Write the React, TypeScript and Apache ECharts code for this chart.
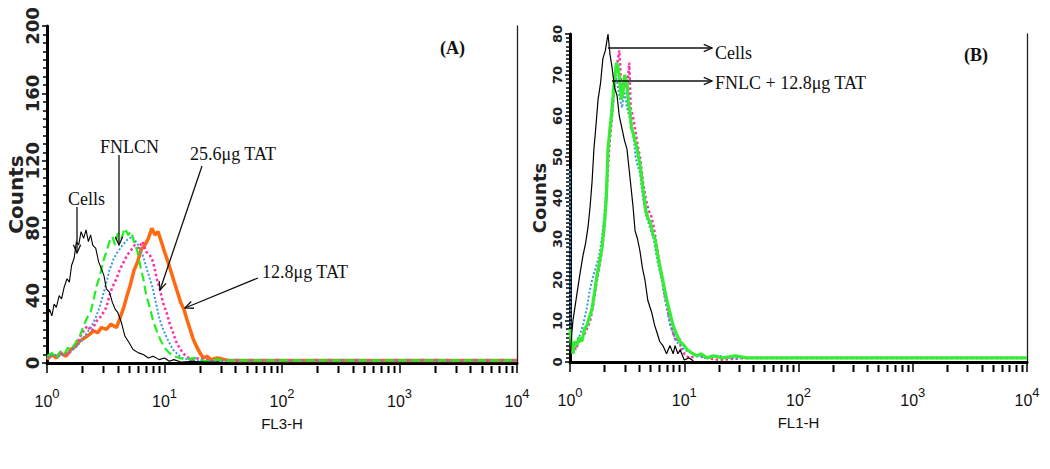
import React, { useEffect, useRef } from "react";
import * as echarts from "echarts";

// ---------- Panel A (FL3-H) ----------
const A_CELLS = [[1.0,26],[1.05,32],[1.1,28],[1.15,35],[1.2,33],[1.27,40],[1.33,38],[1.4,45],[1.48,50],[1.55,48],[1.62,58],[1.7,62],[1.78,72],[1.86,70],[1.95,78],[2.05,74],[2.15,79],[2.25,72],[2.35,76],[2.45,70],[2.6,68],[2.75,60],[2.9,56],[3.05,52],[3.2,44],[3.4,42],[3.6,36],[3.8,32],[4.0,30],[4.3,24],[4.6,16],[5.0,12],[5.4,8],[6.0,6],[6.6,5],[7.3,3],[8,4],[9,2],[10,3],[11,1],[12,2],[14,0.5],[17,1],[22,0.5],[30,0.5]];
const A_FNLCN = [[1.0,4],[1.1,6],[1.2,3],[1.3,7],[1.4,5],[1.5,9],[1.6,8],[1.75,12],[1.9,16],[2.05,22],[2.2,27],[2.35,30],[2.5,38],[2.65,46],[2.8,51],[3.0,60],[3.2,66],[3.4,72],[3.6,75],[3.8,70],[4.0,77],[4.3,74],[4.6,80],[4.9,76],[5.2,78],[5.5,72],[5.9,66],[6.2,58],[6.6,50],[7.0,40],[7.5,33],[8.0,25],[8.6,19],[9.2,14],[10,9],[11,6],[12,4],[13.5,3],[15,2],[18,3],[22,1],[28,2]];
const A_BLUE = [[1.0,3],[1.15,5],[1.3,4],[1.45,6],[1.6,7],[1.8,10],[2.0,14],[2.2,18],[2.4,22],[2.6,27],[2.8,33],[3.1,44],[3.4,55],[3.7,62],[4.0,66],[4.4,70],[4.8,73],[5.3,75],[5.7,72],[6.1,69],[6.6,63],[7.0,57],[7.5,50],[7.9,45],[8.5,35],[9.0,27],[9.6,21],[10.3,16],[11,12],[11.8,8],[12.6,6],[14,3],[16,2],[20,1],[28,1.5]];
const A_TAT256 = [[1.0,3],[1.1,5],[1.2,4],[1.35,6],[1.5,5],[1.65,8],[1.8,12],[2.0,18],[2.2,22],[2.4,19],[2.65,25],[2.9,28],[3.2,33],[3.4,40],[3.6,45],[3.9,50],[4.2,56],[4.5,60],[4.8,64],[5.2,67],[5.6,70],[6.0,68],[6.5,72],[7.0,66],[7.5,64],[8.0,60],[8.6,50],[9.1,44],[9.7,36],[10.4,30],[11.0,24],[11.7,19],[12.5,13],[13.4,9],[14.3,6],[15.3,4],[17,2],[20,3],[25,1]];
const A_TAT128 = [[1.0,2],[1.1,5],[1.2,3],[1.3,6],[1.45,4],[1.6,8],[1.75,10],[1.9,13],[2.1,15],[2.3,17],[2.5,19],[2.7,18],[2.9,21],[3.2,20],[3.5,23],[3.9,21],[4.2,27],[4.5,33],[4.8,40],[5.1,46],[5.5,55],[5.9,60],[6.3,67],[6.8,70],[7.3,74],[7.8,80],[8.3,76],[8.8,78],[9.4,72],[10,66],[10.7,60],[11.4,54],[12.1,48],[12.9,42],[13.7,36],[14.6,32],[15.5,26],[16.5,20],[17.6,14],[18.7,10],[20,6],[21.5,3],[23,4],[25,2],[28,3]];
const A_TAIL = [[35,1.5],[45,1.5],[60,1.5],[80,1.5],[110,1.5],[150,1.5],[200,1.5],[300,1.5],[450,1.5],[700,1.5],[1000,1.5],[1600,1.5],[2500,1.5],[4000,1.5],[6500,1.5],[10000,1.5]];

// ---------- Panel B (FL1-H) ----------
const B_CELLS = [[1.0,0],[1.03,6],[1.06,10],[1.1,13],[1.17,18],[1.23,22],[1.3,26],[1.37,29],[1.44,33],[1.5,38],[1.56,44],[1.62,52],[1.68,57],[1.76,64],[1.85,68],[1.94,74],[2.04,76],[2.15,80],[2.24,75],[2.33,72],[2.45,67],[2.58,65],[2.7,60],[2.85,57],[3.0,54],[3.15,52],[3.35,45],[3.56,38],[3.71,32],[3.9,30],[4.1,27],[4.3,23],[4.53,20],[4.8,15],[5.2,12],[5.5,9],[5.8,7],[6.1,5],[6.5,4],[7.0,2],[7.5,4],[8.0,2],[8.3,4],[8.8,2],[9.2,3],[10,0.5],[11,1],[12,0.3]];
const B_GREEN = [[1.0,8],[1.03,4],[1.06,2],[1.1,5],[1.15,4],[1.2,6],[1.27,5],[1.34,8],[1.41,9],[1.48,11],[1.56,13],[1.64,17],[1.72,21],[1.8,24],[1.91,28],[2.02,35],[2.08,40],[2.15,52],[2.24,57],[2.33,61],[2.4,66],[2.48,70],[2.55,73],[2.63,72],[2.74,68],[2.82,64],[2.91,66],[3.02,70],[3.15,68],[3.25,63],[3.35,61],[3.45,57],[3.56,56],[3.7,54],[3.86,52],[4.1,48],[4.36,42],[4.6,37],[4.82,35],[5.05,34],[5.33,31],[5.55,30],[5.77,27],[6.05,24],[6.37,21],[6.7,18],[7.05,15],[7.5,12],[7.97,9],[8.5,7],[9.17,5],[10,4],[10.6,3],[11.9,2],[13,1.5],[14,2],[15.8,1],[18,1.5],[22,1],[28,1.5]];
const B_BLUE = [[1.0,47],[1.01,4],[1.06,3],[1.12,5],[1.2,6],[1.3,9],[1.4,13],[1.48,17],[1.56,20],[1.64,22],[1.72,24],[1.8,26],[1.9,30],[2.0,36],[2.1,45],[2.2,55],[2.3,62],[2.4,66],[2.5,70],[2.6,68],[2.7,65],[2.85,62],[3.0,66],[3.15,62],[3.3,60],[3.45,58],[3.6,55],[3.75,50],[3.9,48],[4.1,46],[4.35,40],[4.6,36],[4.85,34],[5.1,32],[5.4,30],[5.7,26],[6.0,23],[6.35,20],[6.7,16],[7.1,13],[7.5,9],[8.0,7],[8.5,5],[9.2,4],[10,3],[12,2],[15,1],[20,1.5],[25,1]];
const B_PINK = [[1.0,3],[1.06,5],[1.12,3],[1.2,5],[1.3,6],[1.4,8],[1.5,10],[1.6,14],[1.7,19],[1.8,23],[1.9,27],[2.0,33],[2.1,42],[2.2,52],[2.3,58],[2.4,64],[2.5,70],[2.6,73],[2.7,76],[2.8,68],[2.9,66],[3.0,70],[3.15,66],[3.3,73],[3.4,62],[3.55,60],[3.7,57],[3.9,53],[4.1,50],[4.35,44],[4.6,40],[4.85,37],[5.1,36],[5.4,33],[5.7,29],[6.0,25],[6.35,21],[6.7,17],[7.1,13],[7.5,10],[8.0,7],[8.5,5],[9.0,6],[9.5,3],[10,2],[11,1],[13,1.5],[16,1],[20,0.5]];
const B_TAIL = [[35,1],[45,1],[60,1],[80,1],[110,1],[150,1],[200,1],[300,1],[450,1],[700,1],[1000,1],[1600,1],[2500,1],[4000,1],[6500,1],[10000,1]];

const A_Y_TICKS = { min: 0, max: 200, interval: 40 };
const B_Y_TICKS = { min: 0, max: 80, interval: 10 };

const SERIF = '"Liberation Serif", "Times New Roman", serif';
const SANS = '"Liberation Sans", Arial, sans-serif';
const BOLD_SANS = '"DejaVu Sans", Verdana, sans-serif';

function minorTickValues() {
  const out: number[] = [];
  for (let d = 1; d <= 1000; d *= 10) for (let k = 2; k <= 9; k++) out.push(k * d);
  return out;
}

function arrow(x1: number, y1: number, x2: number, y2: number, head = 9) {
  const ang = Math.atan2(y2 - y1, x2 - x1);
  const a1 = ang + Math.PI - 0.42;
  const a2 = ang + Math.PI + 0.42;
  return [
    { type: "line", z: 100, shape: { x1, y1, x2, y2 }, style: { stroke: "#111", lineWidth: 1.3 } },
    {
      type: "polyline", z: 100,
      shape: { points: [[x2 + head * Math.cos(a1), y2 + head * Math.sin(a1)], [x2, y2], [x2 + head * Math.cos(a2), y2 + head * Math.sin(a2)]] },
      style: { stroke: "#111", lineWidth: 1.3, fill: null },
    },
  ];
}

function label(text: string, x: number, y: number, size = 18, bold = false) {
  return {
    type: "text", z: 100, x, y,
    style: {
      text, fill: "#111", fontFamily: SERIF, fontSize: size, fontWeight: bold ? "bold" : "normal",
      align: "left", verticalAlign: "middle", textAlign: "left", textVerticalAlign: "middle",
    },
  };
}

function xAxes(grid: number, name: string) {
  return [
    {
      type: "log", logBase: 10, min: 1, max: 10000, gridIndex: grid, offset: 3,
      name, nameLocation: "middle", nameGap: 50, nameMoveOverlap: false,
      nameTextStyle: { fontFamily: SANS, fontSize: 15, color: "#111" },
      axisLine: { show: true, lineStyle: { color: "#000", width: 2 } },
      axisTick: { show: true, length: 10, lineStyle: { color: "#000", width: 1.5 } },
      minorTick: { show: false },
      splitLine: { show: false },
      axisLabel: {
        margin: 21,
        formatter: (v: number) => `{b|10}{e|${Math.round(Math.log10(v))}}`,
        rich: {
          b: { fontFamily: SANS, fontSize: 16, color: "#111" },
          e: { fontFamily: SANS, fontSize: 13, color: "#111", padding: [0, 0, 15, 0] },
        },
      },
    },
    {
      type: "log", logBase: 10, min: 1, max: 10000, gridIndex: grid, position: "top",
      axisLine: { show: true, lineStyle: { color: "#000", width: 3 } },
      axisTick: { show: false }, axisLabel: { show: false }, splitLine: { show: false },
    },
  ];
}

function yAxisPair(grid: number, t: any, labelSize: number, minorSplit: number, nameGap: number, nameSize: number) {
  return [
    {
      type: "value", gridIndex: grid, min: t.min, max: t.max, interval: t.interval,
      name: "Counts", nameLocation: "middle", nameRotate: 90, nameGap, nameMoveOverlap: false,
      nameTextStyle: { fontFamily: BOLD_SANS, fontWeight: "bold", fontSize: nameSize, color: "#222" },
      axisLine: { show: true, lineStyle: { color: "#000", width: 3 } },
      axisTick: { show: true, length: 5, lineStyle: { color: "#000", width: 1.5 } },
      minorTick: { show: true, splitNumber: minorSplit, length: 4, lineStyle: { color: "#000", width: 1.5 } },
      splitLine: { show: false },
      axisLabel: { rotate: 90, margin: 6, fontFamily: BOLD_SANS, fontWeight: "bold", fontSize: labelSize, color: "#222" },
    },
    {
      type: "value", gridIndex: grid, position: "right", min: t.min, max: t.max, interval: t.interval,
      axisLine: { show: true, lineStyle: { color: "#222", width: 1.3 } },
      axisTick: { show: false }, axisLabel: { show: false }, splitLine: { show: false },
    },
  ];
}

function line(data: number[][], xi: number, yi: number, color: string, width: number, type: any = "solid") {
  return {
    type: "line", xAxisIndex: xi, yAxisIndex: yi, data, showSymbol: false, symbol: "none",
    lineStyle: { color, width, type }, itemStyle: { color }, silent: true,
  };
}

const ANNOTATIONS: any[] = [
  label("(A)", 440, 48, 18, true),
  label("(B)", 964, 55, 18, true),
  label("Cells", 68, 199),
  label("FNLCN", 100, 147),
  label("25.6μg TAT", 190, 154),
  label("12.8μg TAT", 262, 272),
  ...arrow(77, 207, 77, 253),
  ...arrow(119, 155, 119, 245),
  ...arrow(202, 166, 160, 290),
  ...arrow(258, 278, 185, 308),
  label("Cells", 715, 53),
  label("FNLC + 12.8μg TAT", 715, 83),
  ...arrow(608, 48, 712, 48),
  ...arrow(612, 81, 712, 81),
];

export default function App() {
  const ref = useRef<HTMLDivElement>(null);
  useEffect(() => {
    const chart = echarts.init(ref.current!, null, { renderer: "svg" });
    chart.setOption({
      animation: false,
      backgroundColor: "#fff",
      grid: [
        { left: 47, top: 26, right: 533, bottom: 106 },
        { left: 570, top: 34, right: 23, bottom: 107 },
      ],
      xAxis: [...xAxes(0, "FL3-H"), ...xAxes(1, "FL1-H")],
      yAxis: [...yAxisPair(0, A_Y_TICKS, 18, 8, 21, 20), ...yAxisPair(1, B_Y_TICKS, 13, 10, 22, 18)],
      series: [
        line([...A_TAT128, ...A_TAIL], 0, 0, "#ff6a10", 3.5),
        line([...A_TAT256, ...A_TAIL], 0, 0, "#ff2fa8", 2.5, "dotted"),
        line([...A_BLUE, ...A_TAIL], 0, 0, "#3a9ad9", 2, "dotted"),
        line([...A_FNLCN, ...A_TAIL], 0, 0, "#22ee22", 2.2, "dashed"),
        line(A_CELLS, 0, 0, "#000", 1.1),
        line([...B_PINK, ...B_TAIL], 2, 2, "#ff2fa8", 2.5, "dotted"),
        line([...B_BLUE, ...B_TAIL], 2, 2, "#3a9ad9", 2, "dotted"),
        line([...B_GREEN, ...B_TAIL], 2, 2, "#33ee33", 3.2),
        line(B_CELLS, 2, 2, "#000", 1.2),
      ],
    });
    // minor log ticks (2..9 per decade), placed through the axes' scales
    const ticks: any[] = [];
    [0, 2].forEach((xi) => {
      minorTickValues().forEach((v) => {
        const p = chart.convertToPixel({ xAxisIndex: xi, yAxisIndex: xi }, [v, 0]) as any;
        if (!p) return;
        const x = Math.round(p[0]) + 0.5;
        ticks.push({
          type: "line", z: 110,
          shape: { x1: x, y1: p[1] + 3, x2: x, y2: p[1] + 10 },
          style: { stroke: "#000", lineWidth: 2 },
        });
      });
    });
    chart.setOption({ graphic: { elements: [...ANNOTATIONS, ...ticks] } });
    return () => chart.dispose();
  }, []);
  return <div ref={ref} style={{ position: "absolute", left: 0, top: 0, width: 1050, height: 469, background: "#fff" }} />;
}
